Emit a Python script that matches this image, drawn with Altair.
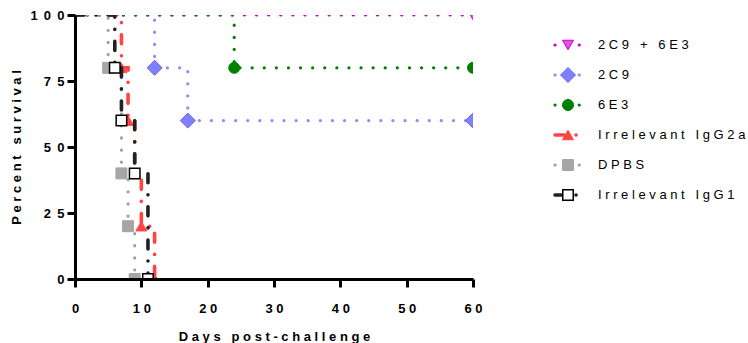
import altair as alt
import pandas as pd

# ---------------- data ----------------
series_names = ["2C9 + 6E3", "2C9", "6E3", "Irrelevant IgG2a", "DPBS", "Irrelevant IgG1"]

days_2c9_6e3 = [0, 60]
surv_2c9_6e3 = [100, 100]
days_2c9 = [0, 12, 17, 60]
surv_2c9 = [100, 80, 60, 60]
days_6e3 = [0, 24, 60]
surv_6e3 = [100, 80, 80]
days_igg2a = [0, 7, 8, 9, 10, 12]
surv_igg2a = [100, 80, 60, 40, 20, 0]
days_dpbs = [0, 5, 7, 8, 9]
surv_dpbs = [100, 80, 40, 20, 0]
days_igg1 = [0, 6, 7, 9, 11]
surv_igg1 = [100, 80, 60, 40, 0]

x_ticks = [0, 10, 20, 30, 40, 50, 60]
y_ticks = [0, 25, 50, 75, 100]

# ---------------- styles ----------------
line_colors = ["#CC00CC", "#8C8CFF", "#008000", "#FF4444", "#A0A0A0", "#222222"]
marker_fill = ["#E650E6", "#8080FF", "#008000", "#FF4444", "#A6A6A6", "#FFFFFF"]
marker_stroke = ["#CC00CC", "#6464F0", "#008000", "#FF4444", "#A6A6A6", "#000000"]
marker_shape = ["triangle-down", "diamond", "circle", "triangle-up", "square", "square"]
marker_size = [121, 225, 121, 121, 121, 110]
marker_sw = [1, 1, 1, 1, 1, 1.5]
DOT = [0.1, 12]
DASHDOT = [9, 12, 0.1, 12]
line_dash = [DOT, DOT, DOT, DASHDOT, DOT, DASHDOT]
line_width = [3.2, 3.2, 3.2, 3.6, 3.2, 3.6]

FONT = "Liberation Sans"
NB = "\u00a0"
YGAP = "\u00a0\u2009"


def spaced(s):
    return NB.join(NB if c == " " else c for c in s)


all_days = [days_2c9_6e3, days_2c9, days_6e3, days_igg2a, days_dpbs, days_igg1]
all_surv = [surv_2c9_6e3, surv_2c9, surv_6e3, surv_igg2a, surv_dpbs, surv_igg1]

x_enc = alt.X(
    "day:Q",
    scale=alt.Scale(domain=[0, 60], nice=False, zero=False),
    axis=alt.Axis(
        values=x_ticks, title=spaced("Days post-challenge"), grid=False,
        domainColor="black", domainWidth=3, tickColor="black", tickWidth=3, tickSize=8,
        labelFont=FONT, labelFontSize=13, labelFontWeight="bold", labelColor="black",
        labelPadding=15, labelExpr="join(split(datum.label, ''), '" + NB + "')",
        titleFont=FONT, titleFontSize=13, titleFontWeight="bold", titleColor="black",
        titlePadding=15, zindex=1, labelFlush=False,
    ),
)
y_enc = alt.Y(
    "survival:Q",
    scale=alt.Scale(domain=[0, 100], nice=False),
    axis=alt.Axis(
        values=y_ticks, title=spaced("Percent survival"), grid=False,
        domainColor="black", domainWidth=3, tickColor="black", tickWidth=3, tickSize=8,
        labelFont=FONT, labelFontSize=13, labelFontWeight="bold", labelColor="black",
        labelPadding=3, labelExpr="join(split(datum.label, ''), '" + YGAP + "')",
        titleFont=FONT, titleFontSize=13, titleFontWeight="bold", titleColor="black",
        titlePadding=6, zindex=1,
    ),
)

layers = []
for i, name in enumerate(series_names):
    df = pd.DataFrame({"day": all_days[i], "survival": all_surv[i], "series": name})
    pts = df.iloc[1:]
    line = alt.Chart(df).mark_line(
        interpolate="step-after", clip=True, color=line_colors[i],
        strokeWidth=line_width[i], strokeDash=line_dash[i], strokeCap="round",
    ).encode(x=x_enc, y=y_enc)
    point = alt.Chart(pts).mark_point(
        shape=marker_shape[i], filled=True, fill=marker_fill[i], stroke=marker_stroke[i],
        strokeWidth=marker_sw[i], size=marker_size[i], opacity=1, fillOpacity=1, clip=True,
    ).encode(x=x_enc, y=y_enc)
    layers += [line, point]

main = alt.layer(*layers).properties(width=398, height=264)

# ---------------- legend ----------------
LY0 = 30
leg_y = alt.Y(
    "series:N",
    scale=alt.Scale(domain=series_names, type="point", range=[LY0, LY0 + 150], padding=0),
    axis=None,
)
LX1, LX2, LM, LT = 62, 87, 75, 105
leg_layers = []
for i, name in enumerate(series_names):
    ldf = pd.DataFrame({"series": [name], "label": [spaced(name)]})
    seg = alt.Chart(ldf).mark_rule(
        color=line_colors[i], strokeWidth=line_width[i], strokeDash=line_dash[i], strokeCap="round",
    ).encode(x=alt.value(LX1), x2=alt.value(LX2), y=leg_y)
    sym = alt.Chart(ldf).mark_point(
        shape=marker_shape[i], filled=True, fill=marker_fill[i], stroke=marker_stroke[i],
        strokeWidth=marker_sw[i], size=marker_size[i], opacity=1, fillOpacity=1,
    ).encode(x=alt.value(LM), y=leg_y)
    txt = alt.Chart(ldf).mark_text(
        align="left", baseline="middle", font=FONT, fontSize=13, color="black",
    ).encode(x=alt.value(LT), y=leg_y, text="label:N")
    leg_layers += [seg, sym, txt]

legend = alt.layer(*leg_layers).properties(width=238, height=264)

chart = alt.hconcat(main, legend, spacing=10).properties(
    padding={"left": 10, "top": 9, "right": 0, "bottom": 0}
).configure(background="white").configure_view(strokeWidth=0)

chart.save("out.html", embed_options={"renderer": "svg", "actions": False})
